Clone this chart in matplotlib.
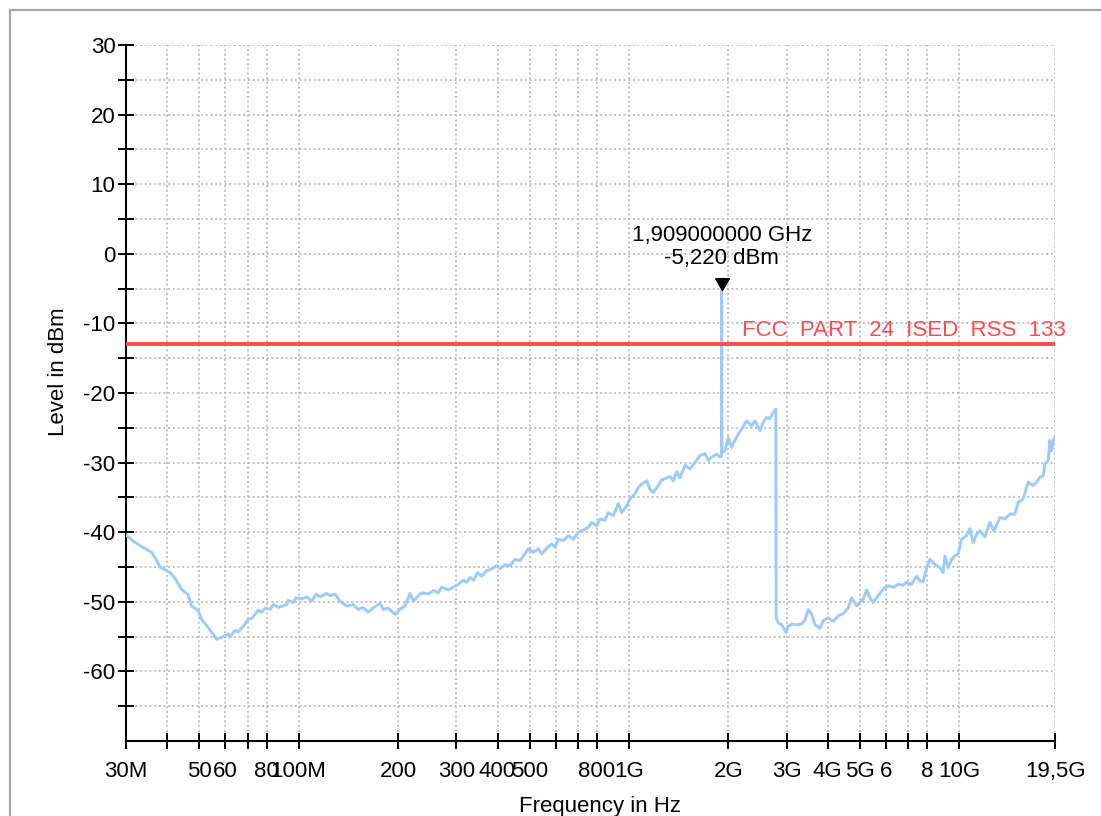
import numpy as np
import matplotlib.pyplot as plt
from matplotlib.patches import Rectangle
from matplotlib.markers import MarkerStyle
from matplotlib.path import Path

plt.rcParams['font.family'] = ['Liberation Sans', 'DejaVu Sans']
plt.rcParams['axes.unicode_minus'] = False

# spectrum trace (frequency in MHz, level in dBm)
freq_mhz = [
    30.0, 31.6, 33.8, 35.9, 37.2, 38.0, 40.8, 42.2, 44.2, 46.3, 47.4, 49.7, 50.8,
    53.2, 56.5, 59.1, 61.2, 61.9, 64.1, 65.6, 68.0, 70.4, 72.1, 73.7, 75.4, 77.3,
    79.1, 81.9, 83.8, 86.8, 92.0, 93.0, 96.3, 98.1, 102.1, 105.7, 109.5, 112.8,
    116.0, 121.6, 124.4, 128.8, 133.4, 139.7, 146.3, 151.5, 156.9, 162.4, 168.2,
    176.2, 180.4, 186.7, 195.7, 202.6, 209.8, 217.2, 222.3, 232.9, 238.3, 246.8,
    255.6, 264.7, 271.0, 283.8, 293.8, 304.2, 315.0, 322.6, 330.1, 339.3, 347.2,
    358.2, 370.9, 384.1, 397.8, 406.9, 421.3, 436.3, 451.8, 467.8, 484.4, 495.7,
    513.3, 531.4, 544.2, 563.5, 583.4, 597.1, 611.0, 632.7, 655.1, 678.3, 702.4,
    727.3, 753.0, 771.1, 798.4, 816.9, 845.9, 865.7, 896.4, 928.3, 950.5, 984.2,
    1007, 1043, 1067, 1092, 1131, 1157, 1184, 1227, 1256, 1301, 1331, 1362, 1395,
    1427, 1478, 1530, 1584, 1640, 1699, 1738, 1780, 1843, 1886, 1905, 1909, 1913,
    1953, 1998, 2046, 2094, 2143, 2194, 2272, 2352, 2407, 2493, 2551, 2612, 2673,
    2735, 2786, 2790, 2831, 2900, 2946, 2987, 3035, 3109, 3219, 3333, 3411, 3490,
    3573, 3657, 3786, 3875, 4012, 4155, 4302, 4455, 4614, 4725, 4893, 5006, 5122,
    5245, 5367, 5491, 5685, 5888, 6098, 6313, 6538, 6769, 6931, 7177, 7431, 7603,
    7779, 7966, 8152, 8441, 8739, 8943, 9049, 9258, 9482, 9703, 9929, 10168,
    10529, 10774, 11025, 11290, 11553, 11963, 12387, 12736, 13280, 13752, 14240,
    14745, 15088, 15624, 16178, 16751, 17153, 17553, 17961, 18173, 18597, 18816,
    19043, 19350, 19500,
]
level_dbm = [
    -40.4, -41.3, -42.2, -42.9, -44.1, -45.0, -45.8, -46.6, -48.2, -49.0, -50.6,
    -51.3, -52.5, -53.7, -55.4, -55.0, -54.6, -55.1, -54.1, -54.3, -53.5, -52.5,
    -52.4, -51.8, -51.2, -51.5, -50.9, -51.1, -50.4, -50.8, -50.4, -49.8, -50.1,
    -49.4, -49.6, -49.3, -49.9, -48.9, -49.3, -48.8, -49.1, -48.9, -49.9, -50.6,
    -50.4, -51.1, -50.8, -51.5, -50.9, -50.2, -51.1, -50.9, -51.8, -51.1, -50.6,
    -48.8, -49.9, -48.9, -48.7, -48.9, -48.4, -48.7, -47.9, -48.3, -47.9, -47.5,
    -46.9, -47.2, -46.5, -46.9, -45.8, -46.3, -45.5, -45.3, -44.8, -45.2, -44.7,
    -44.8, -43.9, -44.1, -43.1, -42.4, -42.9, -42.4, -43.1, -42.3, -41.7, -42.1,
    -41.0, -41.2, -40.5, -41.0, -40.0, -39.7, -39.3, -38.6, -39.1, -38.1, -38.3,
    -37.2, -37.6, -35.9, -37.2, -36.2, -35.2, -34.5, -33.6, -33.1, -32.6, -33.8,
    -34.3, -33.3, -32.5, -32.2, -32.0, -32.6, -31.3, -32.2, -30.4, -30.9, -30.0,
    -29.0, -28.7, -29.7, -29.2, -28.8, -29.2, -29.1, -5.22, -28.5, -28.3, -26.4,
    -27.8, -26.8, -25.9, -25.2, -24.0, -24.7, -24.0, -25.4, -24.2, -23.5, -23.7,
    -22.8, -22.3, -52.3, -53.0, -53.3, -53.9, -54.4, -53.5, -53.2, -53.3, -53.2,
    -52.6, -51.1, -51.8, -53.3, -53.8, -52.7, -52.3, -52.8, -52.0, -51.7, -50.9,
    -49.4, -50.6, -50.1, -49.6, -48.3, -49.4, -50.1, -49.1, -48.2, -47.7, -47.9,
    -47.5, -47.6, -47.2, -47.5, -46.3, -47.0, -47.1, -45.1, -43.9, -44.6, -45.1,
    -45.8, -43.4, -45.1, -43.9, -43.4, -43.1, -41.0, -40.5, -39.5, -41.5, -40.3,
    -39.8, -40.7, -38.6, -39.8, -37.9, -38.1, -37.4, -37.4, -35.7, -35.2, -32.8,
    -33.3, -32.8, -32.1, -31.9, -30.2, -29.7, -26.8, -28.3, -26.6, -26.4,
]

# marker and limit line
marker_freq = 1909.0
marker_level = -5.22
marker_text = '1,909000000 GHz\n-5,220 dBm'
limit_level = -13.0
limit_name = 'FCC  PART  24  ISED  RSS  133'

# x axis ticks (MHz) and labels
xtick_vals = [30, 40, 50, 60, 70, 80, 100, 200, 300, 400, 500, 600, 700, 800,
              1000, 2000, 3000, 4000, 5000, 6000, 7000, 8000, 10000, 19500]
xtick_labels = ['30M', '', '50', '60', '', '80', '100M', '200', '300', '400',
                '500', '', '', '800', '1G', '2G', '3G', '4G', '5G', '6', '',
                '8', '10G', '19,5G']

W, H = 1101, 816
fs = 16
fig = plt.figure(figsize=(W / 100, H / 100), dpi=100)
ax = fig.add_axes([126 / W, 1 - 741 / H, 929 / W, 696 / H])

# grey frame of the original window
fig.patches.append(Rectangle((10 / W, -0.1), 1.2, 1 - 10 / H + 0.1,
                             transform=fig.transFigure, fill=False,
                             ec='#a6a6a6', lw=1.6))

trace_color = '#9ccbfb'
ax.plot(freq_mhz, level_dbm, color=trace_color, lw=2.1, zorder=3)

ax.axhline(limit_level, color='#ff4b4b', lw=2.8, zorder=5)
ax.text(1.0115, limit_level + 0.45, limit_name, color='#ff4b4b', fontsize=fs,
        ha='right', va='bottom', transform=ax.get_yaxis_transform(),
        clip_on=False, zorder=4)

tri = MarkerStyle(Path([(-0.58, 1.0), (0.58, 1.0), (0.0, 0.0), (-0.58, 1.0)]))
ax.plot([marker_freq], [marker_level], marker=tri, ms=17, color='black',
        zorder=6, clip_on=False)
ax.annotate(marker_text, xy=(marker_freq, marker_level), xytext=(0, 15),
            textcoords='offset points', ha='center', va='bottom',
            fontsize=fs, linespacing=1.15)

ax.set_xscale('log')
ax.set_xlim(30, 19500)
ax.set_ylim(-70, 30)
ax.set_xticks(xtick_vals)
ax.set_xticklabels(xtick_labels)
ax.xaxis.set_minor_locator(plt.NullLocator())
ax.set_yticks(np.arange(-60, 31, 10))
ax.set_yticks(np.arange(-65, 30, 10), minor=True)

ax.grid(True, which='both', color='#b8b8b8', ls=(0, (1, 1.6)), lw=1.3)
ax.tick_params(which='both', direction='inout', length=11, width=1.4,
               color='black', labelsize=fs)
ax.tick_params(axis='x', pad=9)
ax.tick_params(axis='y', pad=2)

for side in ('top', 'right'):
    ax.spines[side].set_visible(False)
for side in ('left', 'bottom'):
    ax.spines[side].set_linewidth(1.5)

ax.set_xlabel('Frequency in Hz', fontsize=fs)
ax.set_ylabel('Level in dBm', fontsize=fs)
ax.xaxis.set_label_coords(0.51, -0.079)
ax.yaxis.set_label_coords(-0.061, 0.53)

fig.savefig('out.png', dpi=100)
